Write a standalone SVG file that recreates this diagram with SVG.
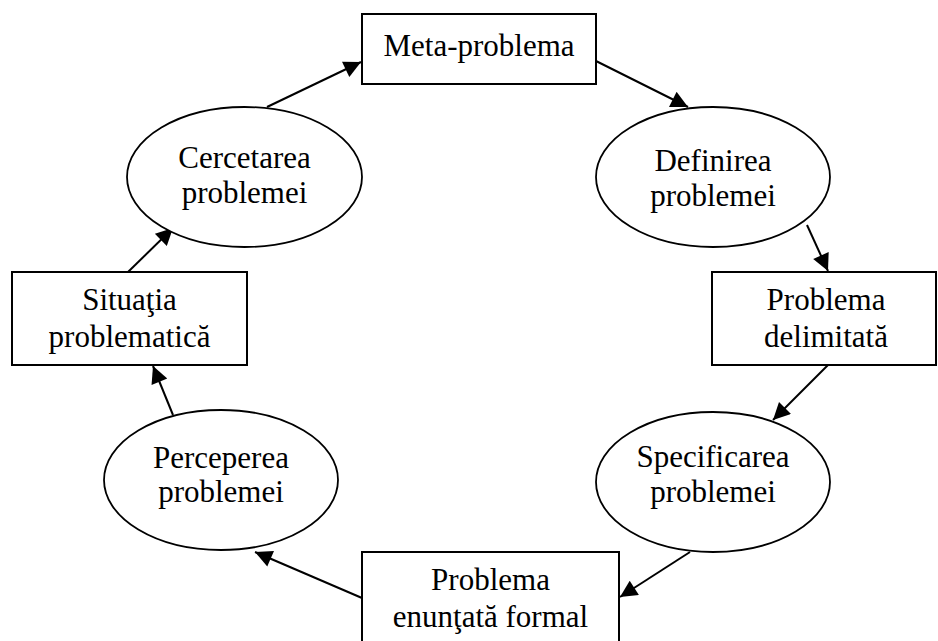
<svg xmlns="http://www.w3.org/2000/svg" width="938" height="641" viewBox="0 0 938 641">
<defs>
<style>
.n{fill:#fff;stroke:#000;stroke-width:2}
.e{fill:#fff;stroke:#000;stroke-width:1.8}
.t{font-family:"Liberation Serif","Times New Roman",serif;font-size:31px;fill:#000;text-anchor:middle}
.c{stroke:#000;stroke-width:2;fill:none;marker-end:url(#ah)}
</style>
<marker id="ah" viewBox="0 0 10 10" refX="10" refY="5" markerWidth="11" markerHeight="8.5" markerUnits="strokeWidth" orient="auto">
<path d="M0,0 L10,5 L0,10 z" fill="#000"/>
</marker>
</defs>
<rect width="938" height="641" fill="#fff"/>
<g id="connectors">
<line class="c" x1="267" y1="107" x2="361" y2="62"/>
<line class="c" x1="596" y1="61" x2="688" y2="107"/>
<line class="c" x1="807" y1="225" x2="828" y2="271"/>
<line class="c" x1="828" y1="365" x2="773" y2="420"/>
<line class="c" x1="690" y1="552" x2="620" y2="597"/>
<line class="c" x1="362" y1="598" x2="255" y2="552"/>
<line class="c" x1="173" y1="415" x2="153" y2="366"/>
<line class="c" x1="128" y1="272" x2="173" y2="228"/>
</g>
<g id="meta">
<rect class="n" x="362" y="14" width="234" height="70"/>
<text class="t" x="479" y="56">Meta-problema</text>
</g>
<g id="cercetarea">
<ellipse class="e" cx="244.5" cy="177" rx="117.5" ry="70"/>
<text class="t" x="244.5" y="168">Cercetarea</text>
<text class="t" x="244.5" y="203">problemei</text>
</g>
<g id="definirea">
<ellipse class="e" cx="713" cy="177" rx="117" ry="70"/>
<text class="t" x="713" y="171">Definirea</text>
<text class="t" x="713" y="206">problemei</text>
</g>
<g id="situatia">
<rect class="n" x="12" y="272" width="235" height="93"/>
<text class="t" x="129.5" y="310">Situaţia</text>
<text class="t" x="129.5" y="347">problematică</text>
</g>
<g id="delimitata">
<rect class="n" x="712" y="272" width="224" height="93"/>
<text class="t" x="826" y="310">Problema</text>
<text class="t" x="826" y="347">delimitată</text>
</g>
<g id="perceperea">
<ellipse class="e" cx="221" cy="480" rx="117" ry="70"/>
<text class="t" x="221" y="468">Perceperea</text>
<text class="t" x="221" y="502">problemei</text>
</g>
<g id="specificarea">
<ellipse class="e" cx="713" cy="482" rx="117" ry="70"/>
<text class="t" x="713" y="467">Specificarea</text>
<text class="t" x="713" y="502">problemei</text>
</g>
<g id="enuntata">
<rect class="n" x="362" y="552" width="257" height="100"/>
<text class="t" x="490.5" y="590">Problema</text>
<text class="t" x="490.5" y="627">enunţată formal</text>
</g>
</svg>
